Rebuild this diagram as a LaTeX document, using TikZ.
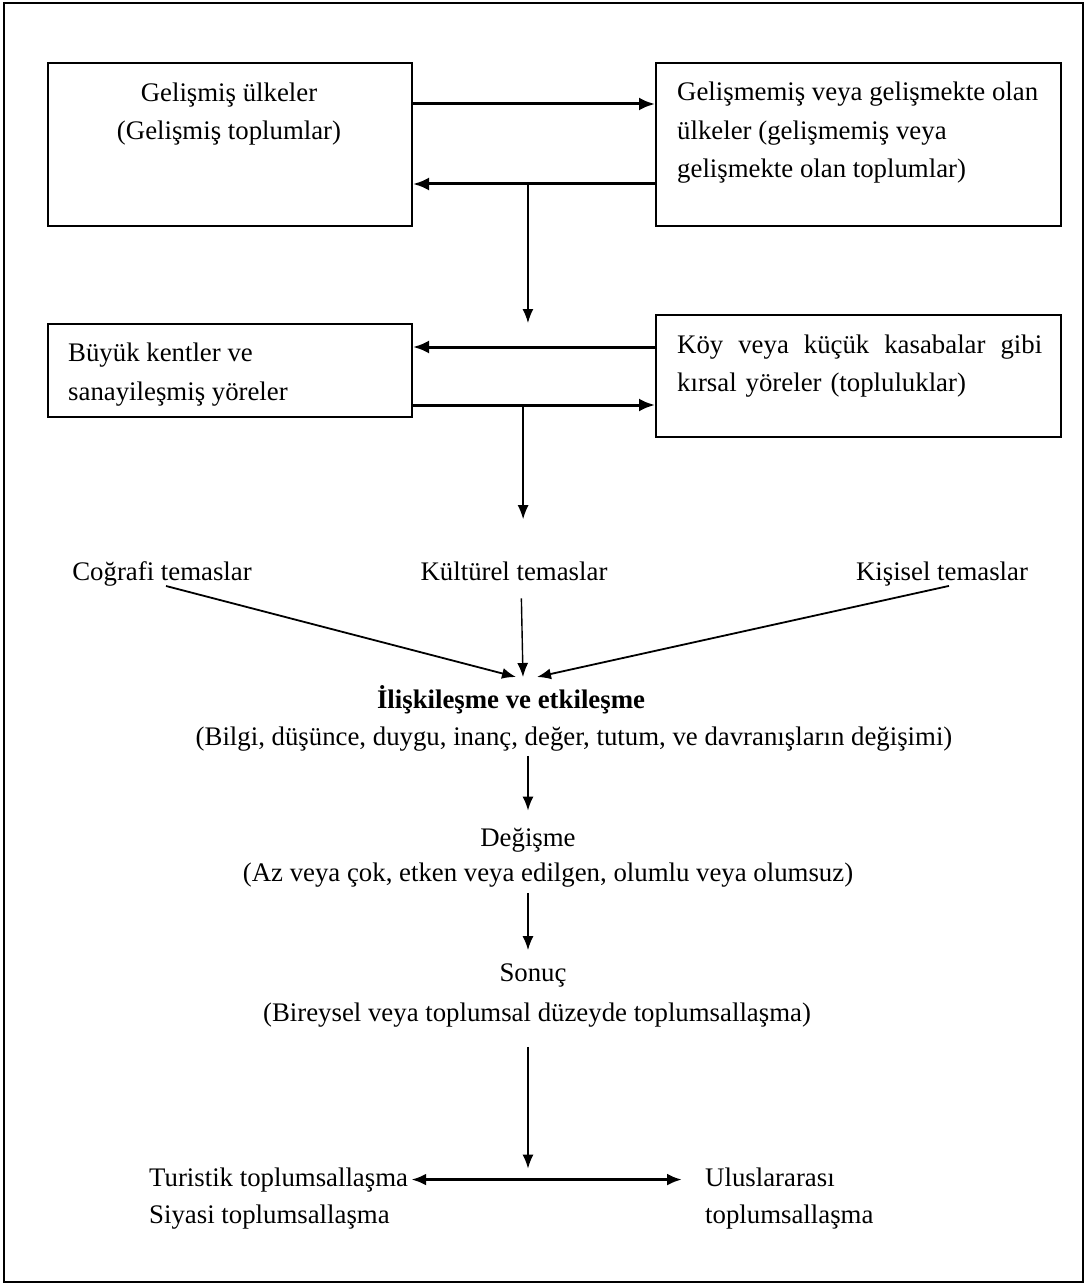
\documentclass[tikz,border=0pt]{standalone}
\usepackage{fontspec}
\setmainfont{Liberation Serif}
\usetikzlibrary{arrows.meta}

\begin{document}
\begin{tikzpicture}[
  x=1pt, y=-1pt,
  % coordinates are taken in pixels of the scanned figure (y downwards)
  frame/.style={line width=2.5pt},
  box/.style={draw, line width=2pt, inner sep=0pt},
  txt/.style={inner sep=0pt, font=\fontsize{26.8pt}{38.5pt}\selectfont},
  flow/.style={line width=1.4pt, -{Latex[length=14pt,width=11pt]}},
  boldflow/.style={line width=3pt, -{Latex[length=16pt,width=13pt]}},
  slant/.style={line width=1.8pt, -{Latex[length=14pt,width=11pt]}},
  twoway/.style={line width=3pt, {Latex[length=15pt,width=12pt]}-{Latex[length=15pt,width=12pt]}}
]
  \useasboundingbox (0,0) rectangle (1086,1284);
  \draw[frame] (4,3) rectangle (1083,1282);

  % ---- boxes ----
  \node[box, minimum width=364pt, minimum height=163pt] (gelismis)   at (230,144.5) {};
  \node[box, minimum width=405pt, minimum height=163pt] (gelismemis) at (858.5,144.5) {};
  \node[box, minimum width=364pt, minimum height=93pt]  (buyuk)      at (230,370.5) {};
  \node[box, minimum width=405pt, minimum height=122pt] (koy)        at (858.5,376) {};

  % ---- box texts (base = last line) ----
  \node[txt, anchor=base, align=center] (gelismisT) at (229,140)
    {Gelişmiş ülkeler\\(Gelişmiş toplumlar)};
  \node[txt, anchor=base west, align=left] (gelismemisT) at (677,178)
    {Gelişmemiş veya gelişmekte olan\\ülkeler (gelişmemiş veya\\gelişmekte olan toplumlar)};
  \node[txt, anchor=base west, align=left] (buyukT) at (68,400)
    {Büyük kentler ve\\sanayileşmiş yöreler};
  \node[txt, anchor=base west, align=left, text width=365pt] (koyT) at (677,353)
    {Köy\hfill veya\hfill küçük\hfill kasabalar\hfill gibi\\kırsal yöreler (topluluklar)};

  % ---- contacts ----
  \node[txt, anchor=base] (cografi)  at (162,580) {Coğrafi temaslar};
  \node[txt, anchor=base] (kulturel) at (514,580) {Kültürel temaslar};
  \node[txt, anchor=base] (kisisel)  at (942,580) {Kişisel temaslar};
  \coordinate (hub) at (523,677);

  % ---- chain ----
  \node[txt, anchor=base] (iliski)  at (511,708) {\textbf{İlişkileşme ve etkileşme}};
  \node[txt, anchor=base] (bilgi)   at (574,745) {(Bilgi, düşünce, duygu, inanç, değer, tutum, ve davranışların değişimi)};
  \node[txt, anchor=base] (degisme) at (528,846) {Değişme};
  \node[txt, anchor=base] (azcok)   at (548,881) {(Az veya çok, etken veya edilgen, olumlu veya olumsuz)};
  \node[txt, anchor=base] (sonuc)   at (533,981) {Sonuç};
  \node[txt, anchor=base] (bireysel) at (537,1021) {(Bireysel veya toplumsal düzeyde toplumsallaşma)};

  % ---- outcomes ----
  \node[txt, anchor=base west] (turistik) at (149,1186) {Turistik toplumsallaşma};
  \node[txt, anchor=base west] (siyasi)   at (149,1223) {Siyasi toplumsallaşma};
  \node[txt, anchor=base west] (uluslar)  at (705,1186) {Uluslararası};
  \node[txt, anchor=base west] (toplumU)  at (705,1223) {toplumsallaşma};

  % ---- connectors ----
  \draw[boldflow] ([yshift=-42pt]gelismis.north east) -- ([yshift=-42pt]gelismemis.north west);
  \draw[boldflow] ([yshift=-122pt]gelismemis.north west) -- ([yshift=-122pt]gelismis.north east)
    coordinate[pos=0.525] (split1);
  \draw[flow] (split1) -- (split1 |- buyuk.north);

  \draw[boldflow] ([yshift=-33pt]koy.north west) -- ([yshift=-24pt]buyuk.north east);
  \draw[boldflow] ([yshift=-82pt]buyuk.north east) -- ([yshift=-91pt]koy.north west)
    coordinate[pos=0.455] (split2);
  \draw[flow, shorten >=42pt] (split2) -- (split2 |- kulturel.north);

  \draw[slant] ([xshift=4pt]cografi.south) -- ([xshift=-7pt]hub);
  \draw[flow, shorten <=18pt] ([xshift=7pt]kulturel.south) -- (hub);
  \draw[slant] ([xshift=7pt]kisisel.south) -- ([xshift=14pt]hub);

  \draw[flow, shorten <=5pt, shorten >=17pt] (degisme.north |- bilgi.south) -- (degisme.north);
  \draw[flow, shorten <=6pt, shorten >=13pt] (degisme.north |- azcok.south) -- (degisme.north |- sonuc.north);
  \coordinate (split3) at (degisme.north |- turistik.east);
  \draw[flow, shorten <=20pt, shorten >=11pt] (degisme.north |- bireysel.south) -- (split3);
  \draw[twoway, shorten <=3pt, shorten >=23pt] (turistik.east) -- (turistik.east -| uluslar.west);
\end{tikzpicture}
\end{document}
